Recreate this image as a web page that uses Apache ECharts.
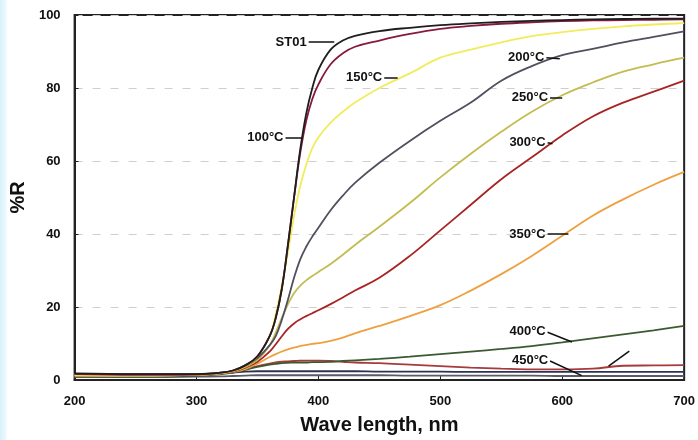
<!DOCTYPE html>
<html>
<head>
<meta charset="utf-8">
<script src="https://cdn.jsdelivr.net/npm/echarts@6/dist/echarts.min.js"></script>
<style>
  html, body { margin: 0; padding: 0; }
  body { background: linear-gradient(to right, #d6f3fb 0px, #e9f8fc 5px, #ffffff 8px); }
</style>
</head>
<body>
<div id="main" style="width: 698px;height:440px;"></div>
<script>
// wavelengths (nm) shared by every curve
var wl = [200, 250, 300, 320, 330, 340, 350, 360, 365, 370, 375, 380, 385, 390, 395, 400, 410, 420, 430, 450, 475, 500, 525, 550, 575, 600, 625, 650, 675, 700];

// %R
var st01 = [1.8, 1.6, 1.6, 2.0, 2.6, 4.0, 6.5, 12, 17, 25, 37, 50, 63, 73, 80, 85, 90.5, 93, 94.3, 95.6, 96.5, 97.2, 97.7, 98.1, 98.4, 98.6, 98.8, 98.9, 99, 99];
var t100 = [1.6, 1.4, 1.5, 2.0, 2.6, 4.0, 6.5, 12, 17, 25, 37, 50, 62, 71, 77, 81, 86.5, 89.5, 91.3, 93, 94.8, 96.2, 97, 97.6, 98, 98.3, 98.5, 98.6, 98.7, 98.8];
var t150 = [1.3, 1.2, 1.4, 1.9, 2.5, 3.8, 6.5, 12, 18, 26, 35, 45, 53, 59, 63.5, 66.5, 70.5, 73.5, 76, 80, 84, 88.3, 90.5, 92.5, 94.2, 95.3, 96.2, 96.9, 97.4, 97.8];
var t200 = [1.4, 1.3, 1.5, 2.0, 2.5, 3.8, 6.0, 9.5, 12, 16.5, 22, 28, 33, 36.5, 39.3, 41.7, 46.5, 50.5, 54, 59.5, 65.5, 71, 76, 82, 86, 89, 90.7, 92.5, 94, 95.5];
var t250 = [1.3, 1.2, 1.4, 1.9, 2.4, 3.6, 5.5, 9.5, 13, 17, 20.8, 23.8, 25.8, 27.3, 28.5, 29.6, 31.8, 34.3, 37, 42, 48.5, 55.5, 62, 68, 73.5, 78, 81.5, 84.5, 86.5, 88.3];
var t300 = [1.3, 1.2, 1.4, 1.8, 2.3, 3.4, 5.0, 7.8, 9.8, 12, 14, 15.5, 16.6, 17.5, 18.3, 19.1, 20.8, 22.6, 24.5, 28, 34, 41, 48, 55, 61, 67, 72.2, 76, 79, 82];
var t350 = [1.2, 1.2, 1.4, 1.8, 2.2, 3.0, 4.5, 6.3, 7.1, 7.8, 8.4, 8.9, 9.3, 9.6, 9.9, 10.1, 10.7, 11.6, 12.8, 14.8, 17.5, 20.5, 24.5, 29, 34, 39.5, 45, 49.5, 53.5, 57];
var t400 = [1.0, 1.0, 1.2, 1.6, 2.0, 2.8, 3.6, 4.2, 4.4, 4.6, 4.7, 4.8, 4.8, 4.8, 4.9, 4.9, 5.0, 5.2, 5.4, 5.8, 6.4, 7.1, 7.8, 8.5, 9.3, 10.3, 11.4, 12.5, 13.6, 14.8];
var t450 = [1.2, 1.2, 1.4, 1.8, 2.2, 3.0, 3.8, 4.5, 4.8, 5.0, 5.1, 5.2, 5.3, 5.3, 5.3, 5.3, 5.2, 5.0, 4.8, 4.6, 4.2, 3.8, 3.4, 3.1, 2.9, 2.9, 3.1, 3.9, 4.0, 4.1];
var t500 = [1.6, 1.6, 1.6, 1.8, 2.0, 2.3, 2.4, 2.4, 2.4, 2.4, 2.4, 2.4, 2.4, 2.4, 2.4, 2.4, 2.4, 2.4, 2.4, 2.3, 2.3, 2.3, 2.2, 2.2, 2.2, 2.2, 2.2, 2.2, 2.2, 2.2];
var t550 = [0.8, 0.8, 0.9, 1.0, 1.1, 1.2, 1.3, 1.3, 1.3, 1.3, 1.3, 1.3, 1.3, 1.3, 1.3, 1.3, 1.3, 1.3, 1.3, 1.3, 1.2, 1.2, 1.2, 1.2, 1.2, 1.1, 1.1, 1.1, 1.1, 1.1];

var xTicks = [200, 300, 400, 500, 600, 700];
var yTicks = [0, 20, 40, 60, 80, 100];

// leader lines: [label, x1, y1, x2, y2]
var notes = {
  st01: ['ST01', 392, 92.6, 413, 92.6],
  t100: ['100°C', 373, 66.4, 387, 66.4],
  t150: ['150°C', 454, 82.8, 465, 82.8],
  t200: ['200°C', 587, 88.3, 598, 88],
  t250: ['250°C', 590, 77.3, 600, 77.3],
  t300: ['300°C', 588, 65, 592, 64.7],
  t350: ['350°C', 588, 40, 605, 40],
  t400: ['400°C', 588, 13.1, 608, 10.4],
  t450: ['450°C', 590, 5.2, 616, 1.2],
  t500: ['', 638, 3.8, 655, 7.9]
};

var myChart = echarts.init(document.getElementById('main'));

function pairs(vals) {
  return wl.map(function (w, i) { return [w, vals[i]]; });
}

function note(n) {
  if (!n) return undefined;
  return {
    silent: true,
    symbol: ['none', 'none'],
    lineStyle: { color: '#111', width: 1.5, type: 'solid' },
    label: {
      show: n[0] !== '',
      position: 'start',
      formatter: n[0],
      color: '#111',
      fontWeight: 'bold',
      fontSize: 13,
      fontFamily: 'Liberation Sans, Arial, sans-serif',
      distance: 2
    },
    emphasis: { disabled: true },
    data: [[{ coord: [n[1], n[2]] }, { coord: [n[3], n[4]] }]]
  };
}

function line(name, vals, color, n) {
  return {
    name: name,
    type: 'line',
    data: pairs(vals),
    smooth: 0.4,
    showSymbol: false,
    lineStyle: { color: color, width: 1.8 },
    itemStyle: { color: color },
    markLine: note(n)
  };
}

var option = {
  animation: false,
  textStyle: { fontFamily: 'Liberation Sans, Arial, sans-serif' },
  grid: { left: 70, right: 12, top: 15, bottom: 59, show: true, borderColor: '#222', borderWidth: 2 },
  xAxis: {
    type: 'value',
    min: 200,
    max: 700,
    interval: 100,
    name: 'Wave length, nm',
    nameLocation: 'middle',
    nameGap: 35,
    nameTextStyle: { fontSize: 20, fontWeight: 'bold', color: '#111' },
    axisLine: { lineStyle: { color: '#222', width: 2 } },
    axisTick: { inside: true, length: 4, lineStyle: { color: '#222' } },
    axisLabel: {
      margin: 15, fontSize: 13, fontWeight: 'bold', color: '#111',
      customValues: xTicks
    },
    splitLine: { show: false }
  },
  yAxis: {
    type: 'value',
    min: 0,
    max: 100,
    interval: 20,
    name: '%R',
    nameLocation: 'middle',
    nameRotate: 90,
    nameGap: 34,
    nameTextStyle: { fontSize: 20, fontWeight: 'bold', color: '#111' },
    axisLine: { show: true, lineStyle: { color: '#222', width: 2 } },
    axisTick: { show: true, inside: true, length: 4, lineStyle: { color: '#222' } },
    axisLabel: {
      margin: 14, fontSize: 13, fontWeight: 'bold', color: '#111',
      customValues: yTicks
    },
    splitLine: { show: true, lineStyle: { color: '#cfcfcf', type: [8, 10], width: 1 } }
  },
  series: [
    line('550°C', t550, '#5a5a66'),
    line('500°C', t500, '#2c3454', notes.t500),
    line('450°C', t450, '#a83a3a', notes.t450),
    line('400°C', t400, '#3c5a32', notes.t400),
    line('350°C', t350, '#eea040', notes.t350),
    line('300°C', t300, '#a82424', notes.t300),
    line('250°C', t250, '#c4bc50', notes.t250),
    line('200°C', t200, '#50505e', notes.t200),
    line('150°C', t150, '#f2ec5a', notes.t150),
    line('100°C', t100, '#8a1840', notes.t100),
    line('ST01', st01, '#1e1e1e', notes.st01)
  ]
};

option && myChart.setOption(option);
</script>
</body>
</html>
